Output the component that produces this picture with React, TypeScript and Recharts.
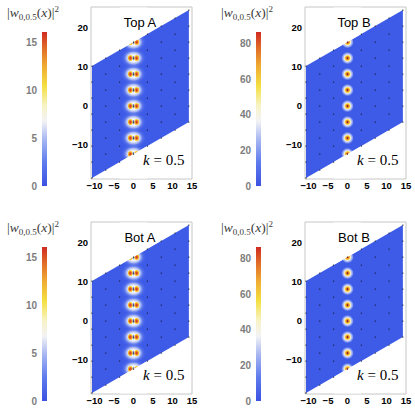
import React from "react";
import {
  ComposedChart,
  BarChart,
  Bar,
  Area,
  Scatter,
  XAxis,
  YAxis,
  ReferenceArea,
} from "recharts";

// supercell (parallelogram) corners
const cellX = [-10.65, 14.2];
const cellLow = [-18.45, -4.1];
const cellHigh = [10.25, 24.6];

// white caps that trim the peaks lying on the cell edges
const capX = [-3.55, 3.55];
const capTopLow = [14.35, 18.45];
const capBotHigh = [-14.35, -10.25];

const xDomain = [-10.9, 15];
const yDomain = [-18.7, 25.4];
const xTicks = [-10, -5, 0, 5, 10, 15];
const yTicks = [-10, 0, 10, 20];

// lattice sites (black dots), one column per entry
const latticeX = [-10.65, -7.1, -3.55, 0, 3.55, 7.1, 10.65, 14.2];
const latticeY = [
  [-18.45, -14.35, -10.25, -6.15, -2.05, 2.05, 6.15, 10.25],
  [-16.4, -12.3, -8.2, -4.1, 0, 4.1, 8.2, 12.3],
  [-14.35, -10.25, -6.15, -2.05, 2.05, 6.15, 10.25, 14.35],
  [-12.3, -8.2, -4.1, 0, 4.1, 8.2, 12.3, 16.4],
  [-10.25, -6.15, -2.05, 2.05, 6.15, 10.25, 14.35, 18.45],
  [-8.2, -4.1, 0, 4.1, 8.2, 12.3, 16.4, 20.5],
  [-6.15, -2.05, 2.05, 6.15, 10.25, 14.35, 18.45, 22.55],
  [-4.1, 0, 4.1, 8.2, 12.3, 16.4, 20.5, 24.6],
];

// density peaks along x = 0
const peakX = [0, 0, 0, 0, 0, 0, 0, 0];
const peakY = [-12.3, -8.2, -4.1, 0, 4.1, 8.2, 12.3, 16.4];

// colour bars
const cbarMaxA = 16.05;
const cbarTicksA = [0, 5, 10, 15];
const cbarMaxB = 86.4;
const cbarTicksB = [0, 20, 40, 60, 80];

const panels = [
  { id: "ta", title: "Top A", kind: "A", ox: 0, oy: 0 },
  { id: "tb", title: "Top B", kind: "B", ox: 214, oy: 0 },
  { id: "ba", title: "Bot A", kind: "A", ox: 0, oy: 215 },
  { id: "bb", title: "Bot B", kind: "B", ox: 214, oy: 215 },
];

const BLUE = "#3d5be7";
const sans = '"Liberation Sans", Arial, sans-serif';
const serif = '"Liberation Serif", "Times New Roman", serif';

const cellData = cellX.map((x, i) => ({ x, v: [cellLow[i], cellHigh[i]] }));
const topCap = capX.map((x, i) => ({ x, v: [capTopLow[i], yDomain[1] - 0.15] }));
const botCap = capX.map((x, i) => ({ x, v: [yDomain[0] + 0.15, capBotHigh[i]] }));
const latticeData = latticeX.flatMap((x, i) => latticeY[i].map((y) => ({ x, y })));
const peakData = peakX.map((x, i) => ({ x, y: peakY[i] }));

const minus = (v: number) => String(v).replace("-", "\u2212");

function PeakA({ cx, cy, id }: any) {
  return (
    <g>
      <ellipse cx={cx} cy={cy} rx={13} ry={10.5} fill={`url(#wide-${id})`} />
      <ellipse cx={cx} cy={cy} rx={9.5} ry={7.5} fill={`url(#halo-${id})`} />
      <ellipse cx={cx - 3.2} cy={cy} rx={3} ry={3.6} fill={`url(#lobe-${id})`} />
      <ellipse cx={cx + 3.2} cy={cy} rx={3} ry={3.6} fill={`url(#lobe-${id})`} />
      <ellipse cx={cx} cy={cy} rx={0.9} ry={2.4} fill="#7a8eea" />
    </g>
  );
}

function PeakB({ cx, cy, id }: any) {
  return (
    <g>
      <circle cx={cx} cy={cy} r={6.5} fill={`url(#halo-${id})`} />
      <circle cx={cx} cy={cy} r={3.3} fill={`url(#core-${id})`} />
    </g>
  );
}

function Panel({ id, title, kind, ox, oy }: any) {
  const cmax = kind === "A" ? cbarMaxA : cbarMaxB;
  const cticks = kind === "A" ? cbarTicksA : cbarTicksB;
  const axisTick = { fill: "#000", fontSize: 9.5, fontWeight: "bold", fontFamily: sans };
  return (
    <>
      {/* colour bar label */}
      <div
        style={{
          position: "absolute",
          left: ox + 7,
          top: oy + 5,
          fontFamily: serif,
          fontSize: 13.5,
          color: "#3a3a3a",
          whiteSpace: "nowrap",
          lineHeight: "16px",
        }}
      >
        |<i>w</i>
        <span style={{ fontSize: 9, position: "relative", top: 3 }}>0,0.5</span>(<i>x</i>)|
        <span style={{ fontSize: 9, position: "relative", top: -5 }}>2</span>
      </div>

      <BarChart
        width={47}
        height={200}
        data={[{ name: "c", v: cmax }]}
        margin={{ top: 32, right: 0, bottom: 14, left: 0 }}
        barCategoryGap={0}
        style={{ position: "absolute", left: ox, top: oy }}
      >
        <defs>
          <linearGradient id={`cbar-${id}`} x1="0" y1="1" x2="0" y2="0">
            <stop offset="0%" stopColor="#3b52e2" />
            <stop offset="15%" stopColor="#5d7aed" />
            <stop offset="30%" stopColor="#a6b6f2" />
            <stop offset="42%" stopColor="#f2f2f5" />
            <stop offset="52%" stopColor="#f8f3c6" />
            <stop offset="65%" stopColor="#f4e042" />
            <stop offset="78%" stopColor="#f0aa32" />
            <stop offset="90%" stopColor="#e06a28" />
            <stop offset="100%" stopColor="#d02a22" />
          </linearGradient>
        </defs>
        <XAxis dataKey="name" hide />
        <YAxis
          width={42}
          domain={[0, cmax]}
          ticks={cticks}
          axisLine={false}
          tickLine={false}
          tickSize={3}
          tickMargin={2}
          tick={{ fill: "#7d7d7d", fontSize: 10, fontWeight: "bold", fontFamily: sans }}
        />
        <Bar dataKey="v" fill={`url(#cbar-${id})`} isAnimationActive={false} />
      </BarChart>

      <ComposedChart
        width={140}
        height={200}
        margin={{ top: 7, right: 9, bottom: 0, left: 0 }}
        style={{ position: "absolute", left: ox + 61, top: oy }}
      >
        <defs>
          <radialGradient id={`wide-${id}`}>
            <stop offset="0%" stopColor="#e8ecfb" stopOpacity={0.8} />
            <stop offset="60%" stopColor="#b9c5f5" stopOpacity={0.45} />
            <stop offset="100%" stopColor={BLUE} stopOpacity={0} />
          </radialGradient>
          <radialGradient id={`halo-${id}`}>
            <stop offset="0%" stopColor="#ffffff" stopOpacity={1} />
            <stop offset="50%" stopColor="#f6f7fd" stopOpacity={0.92} />
            <stop offset="80%" stopColor="#c4cef6" stopOpacity={0.5} />
            <stop offset="100%" stopColor={BLUE} stopOpacity={0} />
          </radialGradient>
          <radialGradient id={`lobe-${id}`}>
            <stop offset="0%" stopColor="#c92a1e" />
            <stop offset="35%" stopColor="#e6622a" />
            <stop offset="62%" stopColor="#f2b232" />
            <stop offset="82%" stopColor="#f6e860" />
            <stop offset="100%" stopColor="#ffffff" stopOpacity={0} />
          </radialGradient>
          <radialGradient id={`core-${id}`}>
            <stop offset="0%" stopColor="#d8421c" />
            <stop offset="45%" stopColor="#ee8c2a" />
            <stop offset="75%" stopColor="#f4d444" />
            <stop offset="100%" stopColor="#faf4b0" stopOpacity={0.6} />
          </radialGradient>
        </defs>
        <XAxis
          type="number"
          dataKey="x"
          domain={xDomain}
          ticks={xTicks}
          allowDataOverflow
          height={21}
          axisLine={false}
          tickLine={false}
          tickSize={2}
          tickMargin={1}
          tick={axisTick}
          tickFormatter={minus}
        />
        <YAxis
          type="number"
          dataKey="y"
          domain={yDomain}
          ticks={yTicks}
          allowDataOverflow
          width={30}
          axisLine={false}
          tickLine={false}
          tickSize={2}
          tickMargin={1}
          tick={axisTick}
          tickFormatter={minus}
        />
        <ReferenceArea
          x1={xDomain[0]}
          x2={xDomain[1]}
          y1={yDomain[0]}
          y2={yDomain[1]}
          fill="none"
          stroke="#c6c6c6"
          strokeWidth={1}
        />
        <Area
          data={cellData}
          dataKey="v"
          type="linear"
          fill={BLUE}
          fillOpacity={1}
          stroke="none"
          isAnimationActive={false}
        />
        <Scatter
          data={peakData}
          isAnimationActive={false}
          shape={(p: any) =>
            kind === "A" ? <PeakA cx={p.cx} cy={p.cy} id={id} /> : <PeakB cx={p.cx} cy={p.cy} id={id} />
          }
        />
        <Area
          data={topCap}
          dataKey="v"
          type="linear"
          fill="#ffffff"
          fillOpacity={1}
          stroke="none"
          isAnimationActive={false}
          {...({ zIndex: 650 } as any)}
        />
        <Area
          data={botCap}
          dataKey="v"
          type="linear"
          fill="#ffffff"
          fillOpacity={1}
          stroke="none"
          isAnimationActive={false}
          {...({ zIndex: 650 } as any)}
        />
        <Scatter
          data={latticeData}
          isAnimationActive={false}
          shape={(p: any) => <circle cx={p.cx} cy={p.cy} r={0.65} fill="#111" />}
          {...({ zIndex: 700 } as any)}
        />
      </ComposedChart>

      <div
        style={{
          position: "absolute",
          left: ox + 110,
          width: 60,
          top: oy + 15,
          textAlign: "center",
          fontFamily: sans,
          fontSize: 13,
          lineHeight: "15px",
          color: "#000",
        }}
      >
        {title}
      </div>
      <div
        style={{
          position: "absolute",
          left: ox + 143,
          top: oy + 152,
          fontFamily: serif,
          fontSize: 15,
          lineHeight: "17px",
          color: "#000",
          whiteSpace: "nowrap",
        }}
      >
        <i>k</i> = 0.5
      </div>
    </>
  );
}

export default function App() {
  return (
    <div
      style={{
        position: "absolute",
        left: 0,
        top: 0,
        width: 415,
        height: 415,
        background: "#fff",
        overflow: "hidden",
      }}
    >
      {panels.map((p) => (
        <Panel key={p.id} {...p} />
      ))}
    </div>
  );
}
